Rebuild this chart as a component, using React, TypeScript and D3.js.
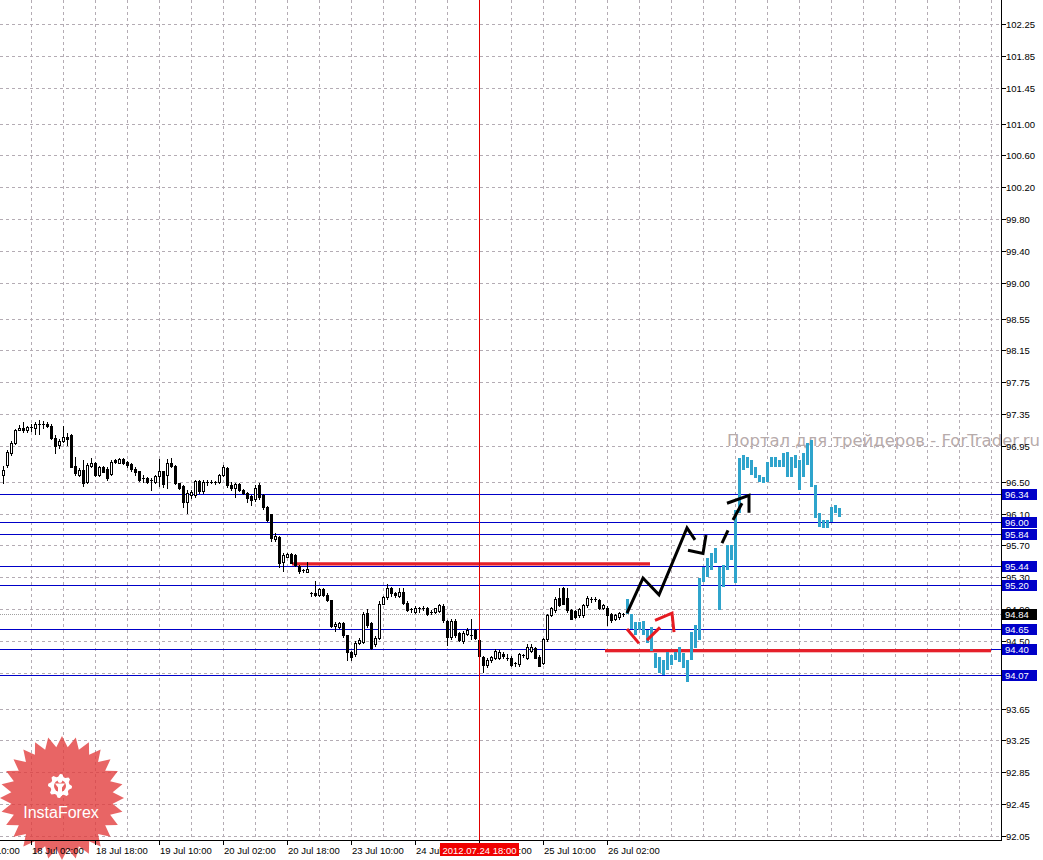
import React from "react";
import * as d3 from "d3";

const W = 1043;
const H = 860;
const plotRight = 1001;
const plotBottom = 840;

// H1 candles: open, high, low, close
const candles: [number, number, number, number][] = [
  [96.58, 96.70, 96.48, 96.65], [96.71, 96.90, 96.68, 96.87], [96.86, 97.01, 96.83, 96.99], [96.99, 97.16, 96.98, 97.15],
  [97.15, 97.21, 97.15, 97.18], [97.18, 97.25, 97.13, 97.15], [97.15, 97.20, 97.13, 97.19], [97.19, 97.22, 97.14, 97.17],
  [97.17, 97.25, 97.10, 97.23], [97.23, 97.28, 97.10, 97.21], [97.21, 97.26, 97.18, 97.23], [97.23, 97.25, 97.19, 97.20],
  [97.20, 97.22, 97.04, 97.05], [97.05, 97.09, 96.86, 96.95], [96.96, 97.04, 96.92, 97.01], [97.01, 97.20, 97.00, 97.06],
  [97.06, 97.11, 96.96, 97.04], [97.09, 97.10, 96.69, 96.69], [96.70, 96.81, 96.58, 96.61], [96.59, 96.67, 96.57, 96.65],
  [96.65, 96.77, 96.45, 96.48], [96.50, 96.73, 96.48, 96.71], [96.70, 96.80, 96.69, 96.74], [96.74, 96.75, 96.57, 96.58],
  [96.59, 96.70, 96.57, 96.68], [96.68, 96.70, 96.62, 96.62], [96.66, 96.68, 96.52, 96.55], [96.60, 96.77, 96.58, 96.75],
  [96.77, 96.79, 96.74, 96.75], [96.74, 96.80, 96.73, 96.79], [96.79, 96.80, 96.72, 96.74], [96.75, 96.76, 96.68, 96.71],
  [96.72, 96.74, 96.64, 96.66], [96.66, 96.68, 96.58, 96.62], [96.63, 96.64, 96.51, 96.52], [96.53, 96.58, 96.50, 96.55],
  [96.55, 96.56, 96.49, 96.50], [96.52, 96.55, 96.40, 96.52], [96.50, 96.58, 96.49, 96.57], [96.57, 96.79, 96.45, 96.63],
  [96.63, 96.64, 96.44, 96.47], [96.58, 96.79, 96.42, 96.73], [96.73, 96.80, 96.69, 96.70], [96.70, 96.71, 96.47, 96.48],
  [96.48, 96.49, 96.41, 96.42], [96.45, 96.46, 96.18, 96.24], [96.25, 96.40, 96.11, 96.36], [96.33, 96.40, 96.30, 96.37],
  [96.33, 96.52, 96.31, 96.51], [96.51, 96.52, 96.36, 96.38], [96.38, 96.52, 96.36, 96.50], [96.48, 96.52, 96.46, 96.50],
  [96.50, 96.52, 96.48, 96.49], [96.49, 96.51, 96.47, 96.50], [96.50, 96.60, 96.48, 96.58], [96.58, 96.71, 96.57, 96.68],
  [96.67, 96.69, 96.44, 96.46], [96.46, 96.50, 96.40, 96.42], [96.42, 96.48, 96.31, 96.47], [96.47, 96.48, 96.38, 96.40],
  [96.40, 96.41, 96.34, 96.36], [96.36, 96.37, 96.24, 96.30], [96.32, 96.33, 96.21, 96.27], [96.28, 96.46, 96.26, 96.42],
  [96.46, 96.49, 96.28, 96.31], [96.33, 96.34, 96.16, 96.18], [96.18, 96.19, 96.01, 96.02], [96.09, 96.10, 95.76, 95.79],
  [95.78, 95.86, 95.75, 95.82], [95.81, 95.82, 95.43, 95.48], [95.49, 95.60, 95.38, 95.58], [95.56, 95.61, 95.55, 95.59],
  [95.59, 95.61, 95.48, 95.48], [95.58, 95.59, 95.44, 95.45], [95.44, 95.45, 95.35, 95.38], [95.39, 95.41, 95.37, 95.39],
  [95.37, 95.49, 95.36, 95.40], [95.10, 95.12, 95.07, 95.10], [95.10, 95.25, 95.06, 95.08], [95.08, 95.16, 95.06, 95.15],
  [95.15, 95.17, 95.06, 95.08], [95.08, 95.10, 95.00, 95.02], [95.01, 95.02, 94.67, 94.69], [94.69, 94.74, 94.63, 94.71],
  [94.68, 94.74, 94.66, 94.72], [94.72, 94.74, 94.55, 94.57], [94.57, 94.58, 94.26, 94.36], [94.36, 94.37, 94.26, 94.30],
  [94.33, 94.50, 94.31, 94.48], [94.48, 94.54, 94.46, 94.51], [94.49, 94.86, 94.47, 94.84], [94.85, 94.90, 94.68, 94.70],
  [94.72, 94.74, 94.40, 94.41], [94.46, 94.56, 94.44, 94.54], [94.54, 95.00, 94.52, 94.97], [94.97, 95.07, 94.96, 95.05],
  [95.05, 95.22, 95.03, 95.16], [95.17, 95.18, 95.06, 95.10], [95.10, 95.12, 95.05, 95.08], [95.06, 95.16, 95.05, 95.12],
  [95.12, 95.17, 94.96, 94.98], [94.98, 95.00, 94.88, 94.89], [94.89, 94.91, 94.86, 94.90], [94.87, 94.94, 94.85, 94.92],
  [94.90, 94.93, 94.87, 94.92], [94.92, 94.94, 94.89, 94.91], [94.91, 94.93, 94.83, 94.84], [94.86, 94.89, 94.84, 94.87],
  [94.87, 94.91, 94.85, 94.91], [94.88, 94.97, 94.86, 94.95], [94.94, 94.96, 94.74, 94.76], [94.75, 94.76, 94.45, 94.55],
  [94.55, 94.77, 94.53, 94.75], [94.75, 94.77, 94.55, 94.57], [94.60, 94.61, 94.50, 94.51], [94.50, 94.62, 94.48, 94.60],
  [94.59, 94.66, 94.58, 94.64], [94.58, 94.78, 94.52, 94.57], [94.64, 94.65, 94.53, 94.54], [94.51, 94.52, 94.30, 94.31],
  [94.30, 94.31, 94.11, 94.20], [94.20, 94.28, 94.17, 94.26], [94.26, 94.31, 94.24, 94.30], [94.29, 94.40, 94.27, 94.37],
  [94.29, 94.39, 94.27, 94.36], [94.33, 94.36, 94.28, 94.31], [94.29, 94.33, 94.26, 94.28], [94.29, 94.31, 94.18, 94.20],
  [94.22, 94.24, 94.19, 94.22], [94.21, 94.35, 94.19, 94.33], [94.32, 94.34, 94.30, 94.32], [94.29, 94.46, 94.27, 94.43],
  [94.38, 94.46, 94.36, 94.43], [94.41, 94.43, 94.28, 94.29], [94.30, 94.32, 94.18, 94.19], [94.22, 94.54, 94.21, 94.52],
  [94.52, 94.84, 94.50, 94.83], [94.83, 94.93, 94.81, 94.92], [94.89, 95.05, 94.87, 95.03], [95.04, 95.17, 94.94, 94.95],
  [95.16, 95.18, 94.96, 94.97], [95.04, 95.17, 94.87, 94.89], [94.89, 94.90, 94.77, 94.78], [94.88, 94.89, 94.79, 94.80],
  [94.82, 94.92, 94.80, 94.90], [94.82, 94.97, 94.80, 94.95], [94.95, 95.06, 94.93, 95.04], [95.01, 95.05, 94.99, 95.03],
  [95.03, 95.05, 95.00, 95.02], [95.01, 95.03, 94.90, 94.91], [94.91, 94.97, 94.90, 94.95], [94.92, 94.94, 94.70, 94.83],
  [94.84, 94.85, 94.74, 94.76], [94.78, 94.84, 94.76, 94.83], [94.80, 94.86, 94.78, 94.85], [94.83, 94.85, 94.81, 94.84],
];

// forecast bars (cyan): high, low
const forecast: [number, number][] = [
  [95.03, 94.84], [94.84, 94.65], [94.74, 94.57], [94.74, 94.64], [94.75, 94.58], [94.64, 94.48], [94.67, 94.38],
  [94.35, 94.16], [94.30, 94.10], [94.26, 94.07], [94.36, 94.13], [94.32, 94.20], [94.36, 94.26], [94.42, 94.23],
  [94.35, 94.16], [94.26, 93.98], [94.61, 94.26], [94.70, 94.41], [95.29, 94.51], [95.43, 95.24], [95.54, 95.30],
  [95.60, 95.39], [95.67, 95.48], [95.43, 94.89], [95.45, 95.18], [95.70, 95.39], [95.70, 95.52], [96.14, 95.23],
  [96.80, 96.11], [96.83, 96.65], [96.81, 96.67], [96.77, 96.58], [96.68, 96.55], [96.58, 96.50], [96.56, 96.48],
  [96.75, 96.50], [96.81, 96.68], [96.81, 96.68], [96.77, 96.68], [96.86, 96.68], [96.87, 96.56], [96.81, 96.56],
  [96.83, 96.67], [96.77, 96.40], [96.86, 96.56], [96.99, 96.71], [97.02, 96.43], [96.46, 96.04], [96.11, 95.93],
  [96.02, 95.92], [96.02, 95.92], [96.18, 95.99], [96.21, 96.11], [96.17, 96.06],
];

const priceTicks = [
  102.25, 101.85, 101.45, 101.0, 100.6, 100.2, 99.8, 99.4, 99.0, 98.55, 98.15, 97.75, 97.35,
  96.95, 96.5, 96.1, 95.7, 95.3, 94.9, 94.5, 94.1, 93.65, 93.25, 92.85, 92.45, 92.05,
];

const timeTicks: [number, string][] = [
  [-9, "17 Jul 10:00"], [7, "18 Jul 02:00"], [23, "18 Jul 18:00"], [39, "19 Jul 10:00"],
  [55, "20 Jul 02:00"], [71, "20 Jul 18:00"], [87, "23 Jul 10:00"], [103, "24 Jul 02:00"],
  [119, "24 Jul 18:00"], [135, "25 Jul 10:00"], [151, "26 Jul 02:00"],
];

const levels = [96.34, 96.0, 95.84, 95.44, 95.2, 94.65, 94.4, 94.07];
const bidPrice = 94.84;
const cursorIndex = 119;
const cursorLabel = "2012.07.24 18:00";

// [fromIndex, toIndex, price]
const redLevels: [number, number, number][] = [
  [72.25, 161.75, 95.47],
  [150.5, 247, 94.38],
];

// hand drawn arrows: [barIndex, price]
const blackStrokes: [number, number][][] = [
  [[156, 94.85], [160, 95.29], [164, 95.08], [171, 95.92], [173, 95.77]],
  [[171.25, 95.64], [175, 95.6], [175.75, 95.83]],
  [[179.75, 95.73], [181.25, 95.89]],
  [[182.5, 96.02], [184.75, 96.23]],
  [[181, 96.23], [186.5, 96.33], [186.5, 96.11]],
];
const redStrokes: [number, number][][] = [
  [[156, 94.65], [159, 94.47]],
  [[161, 94.51], [164.25, 94.67]],
  [[163, 94.76], [167.25, 94.85], [167.75, 94.61]],
];

const x = d3.scaleLinear().domain([0, 1]).range([3, 7]);
const y = d3.scaleLinear().domain([92.05, 102.25]).range([836, 24]);
const px = (i: number) => Math.round(x(i));
const py = (p: number) => Math.round(y(p));

const gridIdx = d3.range(7, 250, 8);
const font = "'Liberation Sans', Arial, sans-serif";

function starPath(cx: number, cy: number, ro: number, ri: number, n: number) {
  const pts: [number, number][] = [];
  for (let k = 0; k < n * 2; k++) {
    const a = (k * Math.PI) / n - Math.PI / 2;
    const r = k % 2 === 0 ? ro : ri;
    pts.push([cx + r * Math.cos(a), cy + r * Math.sin(a)]);
  }
  return "M" + pts.map((p) => p.join(",")).join("L") + "Z";
}

function gearPath(cx: number, cy: number) {
  const pts: [number, number][] = [];
  const teeth = 8;
  for (let k = 0; k < teeth * 4; k++) {
    const a = (k * Math.PI * 2) / (teeth * 4) - Math.PI / 2;
    const r = k % 4 < 2 ? 12 : 9.5;
    pts.push([cx + r * Math.cos(a), cy + r * Math.sin(a)]);
  }
  return "M" + pts.map((p) => p.join(",")).join("L") + "Z";
}

const lineGen = d3
  .line<[number, number]>()
  .x((d) => x(d[0]))
  .y((d) => y(d[1]));

export default function App() {
  return (
    <svg width={W} height={H} style={{ position: "absolute", left: 0, top: 0, background: "#fff" }}>
      <rect x={0} y={0} width={W} height={H} fill="#fff" />

      {/* grid */}
      <g stroke="#b4acb4" strokeWidth={1} strokeDasharray="3,3">
        {gridIdx.map((i) => (
          <line key={"v" + i} x1={px(i) + 0.5} x2={px(i) + 0.5} y1={0} y2={plotBottom} />
        ))}
        {priceTicks.map((p) => (
          <line key={"h" + p} x1={0} x2={plotRight} y1={py(p) + 0.5} y2={py(p) + 0.5} />
        ))}
      </g>

      {/* watermark */}
      <text x={727} y={446} fontFamily="'DejaVu Sans', sans-serif" fontSize={15.5} fill="#b7abab"
        textLength={313} lengthAdjust="spacingAndGlyphs">
        Портал для трейдеров - ForTrader.ru
      </text>

      {/* InstaForex logo */}
      <g>
        <path d={starPath(62, 798, 62, 51, 28)} fill="#e23a3a" opacity={0.78} />
        <path d={gearPath(60, 786)} fill="#fff" />
        <circle cx={60} cy={786} r={6} fill="#e8605f" />
        <circle cx={60} cy={780.5} r={2.4} fill="#fff" />
        <path d="M55,783.5L65,783.5L62,787.5L62,796L58,796L58,787.5Z" fill="#fff" />
        <text x={61} y={818} textAnchor="middle" fontFamily={font} fontSize={16} fill="#fff">
          InstaForex
        </text>
      </g>

      {/* horizontal levels */}
      <g stroke="#0000c8" strokeWidth={1}>
        {levels.map((p) => (
          <line key={"l" + p} x1={0} x2={plotRight} y1={py(p) + 0.5} y2={py(p) + 0.5} />
        ))}
      </g>
      <line x1={0} x2={plotRight} y1={py(bidPrice) + 0.5} y2={py(bidPrice) + 0.5}
        stroke="#a0a0a0" strokeDasharray="1,1" />

      {/* red levels */}
      {redLevels.map(([a, b, p], k) => (
        <rect key={"r" + k} x={x(a)} y={y(p) - 1.5} width={x(b) - x(a)} height={3.3} fill="#e5202a" />
      ))}

      {/* candles */}
      <g>
        {candles.map(([o, h, l, c], i) => {
          const cx = px(i);
          const top = Math.round(y(Math.max(o, c)));
          const bot = Math.round(y(Math.min(o, c)));
          const up = c >= o;
          return (
            <g key={"c" + i}>
              <line x1={cx + 0.5} x2={cx + 0.5} y1={py(h)} y2={py(l) + 1} stroke="#000" />
              {bot - top < 2 ? (
                <rect x={cx - 1} y={top} width={3} height={Math.max(bot - top, 1)} fill="#000" />
              ) : up ? (
                <rect x={cx - 0.5} y={top + 0.5} width={2} height={bot - top} fill="#fff" stroke="#000" />
              ) : (
                <rect x={cx - 1} y={top} width={3} height={bot - top + 1} fill="#000" />
              )}
            </g>
          );
        })}
      </g>

      {/* forecast bars */}
      <g fill="#2fa4cc">
        {forecast.map(([h, l], j) => {
          const i = candles.length + j;
          return <rect key={"f" + j} x={px(i) - 1} y={py(h)} width={3} height={py(l) - py(h)} />;
        })}
      </g>

      {/* hand drawn strokes */}
      <g fill="none" stroke="#000" strokeWidth={3} strokeLinejoin="miter">
        {blackStrokes.map((s, k) => (
          <path key={"b" + k} d={lineGen(s) || ""} />
        ))}
      </g>
      <g fill="none" stroke="#e51b22" strokeWidth={3}>
        {redStrokes.map((s, k) => (
          <path key={"rs" + k} d={lineGen(s) || ""} />
        ))}
      </g>

      {/* cursor */}
      <line x1={px(cursorIndex) + 0.5} x2={px(cursorIndex) + 0.5} y1={0} y2={plotBottom} stroke="#e00000" />

      {/* axes */}
      <line x1={plotRight + 0.5} x2={plotRight + 0.5} y1={0} y2={plotBottom + 1} stroke="#000" />
      <line x1={0} x2={plotRight + 1} y1={plotBottom + 0.5} y2={plotBottom + 0.5} stroke="#000" />

      <g fontFamily={font} fontSize={9.5} fill="#000">
        {priceTicks.map((p) => (
          <g key={"pt" + p}>
            <line x1={plotRight + 1} x2={plotRight + 5} y1={py(p) + 0.5} y2={py(p) + 0.5} stroke="#000" />
            <text x={1006} y={py(p) + 4}>{p.toFixed(2)}</text>
          </g>
        ))}
        {timeTicks.map(([i, t]) => (
          <g key={"tt" + i}>
            <line x1={px(i) + 0.5} x2={px(i) + 0.5} y1={plotBottom} y2={plotBottom + 5} stroke="#000" />
            <text x={px(i) + 1} y={854}>{t}</text>
          </g>
        ))}
      </g>

      {/* level labels */}
      <g fontFamily={font} fontSize={9.5}>
        {[...levels, bidPrice].map((p) => (
          <g key={"lb" + p}>
            <rect x={1002} y={py(p) - 5} width={35} height={11} fill={p === bidPrice ? "#000" : "#0000c8"} />
            <text x={1005} y={py(p) + 4} fill="#fff">{p.toFixed(2)}</text>
          </g>
        ))}
        <rect x={px(cursorIndex) - 39} y={843} width={79} height={13} fill="#f00000" />
        <text x={px(cursorIndex) + 0.5} y={853.5} textAnchor="middle" fill="#fff">{cursorLabel}</text>
      </g>
    </svg>
  );
}
